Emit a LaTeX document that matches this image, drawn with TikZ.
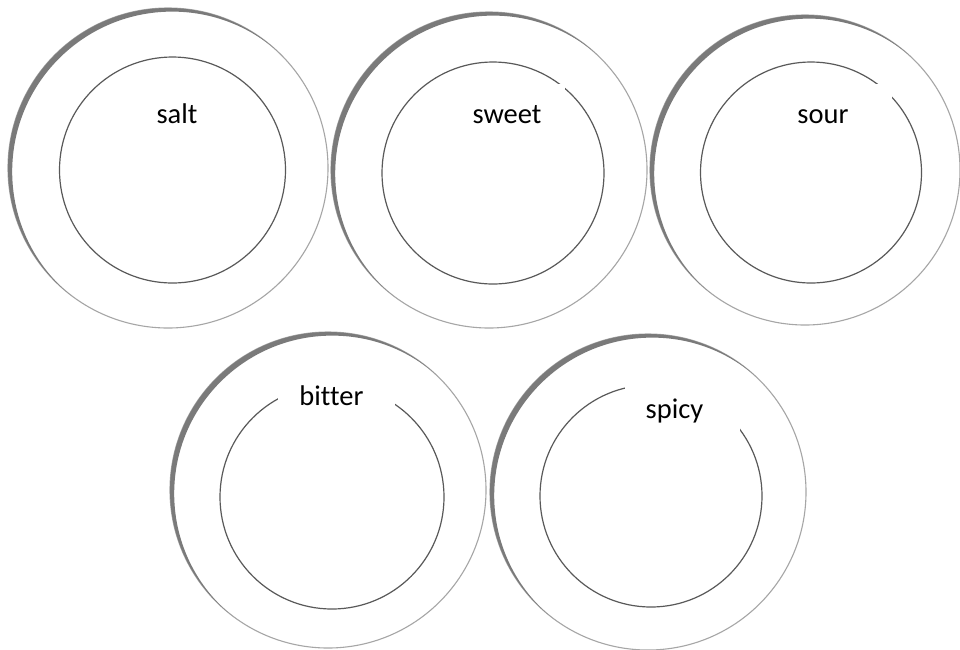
\documentclass[tikz,border=0pt]{standalone}
\usepackage{fontspec}
\setmainfont{Carlito}[Ligatures=NoCommon]
\begin{document}
\begin{tikzpicture}[x=1pt,y=-1pt,
  rim/.style={circle, draw=black!35, line width=1.1pt, fill=white, inner sep=0pt},
  well/.style={circle, draw=black!65, line width=1.2pt, inner sep=0pt},
  shade/.style={fill=black!52},
  cover/.style={fill=white, draw=none, inner sep=0pt},
  word/.style={font=\fontsize{28.5}{34}\selectfont, inner sep=0pt, anchor=base}]
\useasboundingbox (0,0) rectangle (960,649);
\fill[white] (0,0) rectangle (960,649);
% plate: #1 name, #2 #3 outer centre, #4 outer radius, #5 #6 inner centre, #7 inner radius
\newcommand\drawplate[7]{%
  \node[rim, minimum size=2*#4 pt] (o#1) at (#2,#3) {};
  \begin{scope}
    \clip (#2,#3) circle (#4 pt);
    \fill[shade, even odd rule] (#2,#3) circle (#4 pt + 12pt) ({#2+4.2},{#3+3.6}) circle (#4 pt);
  \end{scope}
  \node[well, minimum size=2*#7 pt] (i#1) at (#5,#6) {};
}
\drawplate{1}{168}{168}{160}{172.5}{170}{113}
\drawplate{2}{489}{170}{158}{493}{173}{111}
\drawplate{3}{805}{170}{155}{811}{172.5}{110.5}
\drawplate{4}{328}{490}{158}{332}{497}{112}
\drawplate{5}{648}{492}{158}{651}{496}{111}
% label covers
\node[cover, minimum width=100pt, minimum height=50pt] (c1) at (177,112) {};
\node[cover, minimum width=116pt, minimum height=56pt] (c2) at (507,112) {};
\node[cover, minimum width=138pt, minimum height=61pt] (c3) at (823,114.5) {};
\node[cover, minimum width=117pt, minimum height=60pt] (c4) at (336.5,395) {};
\node[cover, minimum width=115pt, minimum height=53pt] (c5) at (682.5,406.5) {};
% labels
\node[word] (salt) at (177,123) {salt};
\node[word] (sweet) at (507,123) {sweet};
\node[word] (sour) at (823,123) {sour};
\node[word] (bitter) at (331.5,405) {bitter};
\node[word] (spicy) at (674.5,418) {spicy};
\end{tikzpicture}
\end{document}
